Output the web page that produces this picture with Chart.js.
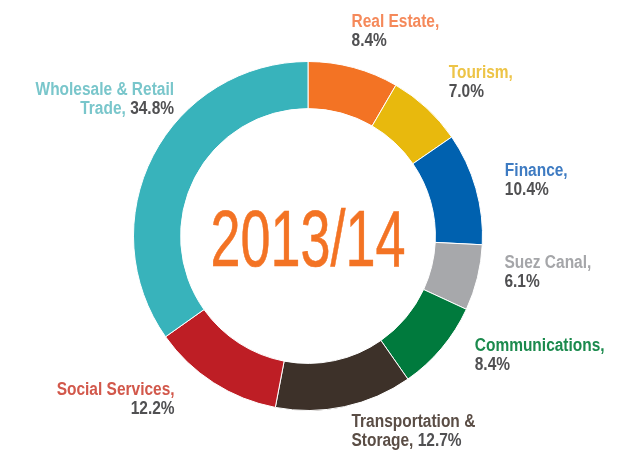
<!DOCTYPE html>
<html>
<head>
<meta charset="utf-8">
<script src="https://cdn.jsdelivr.net/npm/chart.js@4.4.1/dist/chart.umd.min.js"></script>
<style>
  html, body { margin: 0; padding: 0; background: #fff; }
  #wrap { width: 637px; height: 451px; position: relative; }
</style>
</head>
<body>
<div id="wrap"><canvas id="donut"></canvas></div>
<script>
// data
const sectors = ['Real Estate', 'Tourism', 'Finance', 'Suez Canal', 'Communications',
                 'Transportation & Storage', 'Social Services', 'Wholesale & Retail Trade'];
const shares = [8.4, 7.0, 10.4, 6.1, 8.4, 12.7, 12.2, 34.8];
const centerTitle = '2013/14';

const sliceColors = ['#F37324', '#E8B90D', '#0061AF', '#A7A8AB', '#007A3D', '#3D3129', '#BE1E25', '#38B3BB'];
const labelColors = ['#F5895A', '#EDC447', '#3E7BC2', '#A5A6A9', '#1B8A4D', '#5A4D45', '#D2584B', '#79C6CB'];
const pctColor = '#505052';

// where the first word line wraps (label text only)
const wrapAt = { 'Transportation & Storage': 'Transportation &', 'Wholesale & Retail Trade': 'Wholesale & Retail' };
// nudge of each label from the outer middle of its slice: [dx, dy, align]
const nudges = [[-2, -41, 'left'], [22, -30, 'left'], [29, -12, 'left'], [27, -10, 'left'],
                [33, 3, 'left'], [7, 20, 'left'], [-39, 12, 'right'], [21, -61, 'right']];

const FONT = '"Liberation Sans Narrow", "Liberation Sans", sans-serif';
const LINE = 19;
const SQUEEZE = 0.86; // the original uses a condensed face

const labelPlugin = {
    id: 'sliceLabels',
    afterDraw(chart) {
        const ctx = chart.ctx;
        const arcs = chart.getDatasetMeta(0).data;
        ctx.save();
        ctx.font = 'bold 18px ' + FONT;
        ctx.textBaseline = 'alphabetic';
        ctx.textAlign = 'left';
        arcs.forEach((arc, i) => {
            const mid = (arc.startAngle + arc.endAngle) / 2;
            const ax = arc.x + Math.cos(mid) * arc.outerRadius + nudges[i][0];
            const ay = arc.y + Math.sin(mid) * arc.outerRadius + nudges[i][1];
            const align = nudges[i][2];
            const name = sectors[i];
            const pct = shares[i].toFixed(1) + '%';
            let lines;
            if (wrapAt[name]) {
                const first = wrapAt[name];
                const rest = name.slice(first.length).trim() + ', ';
                lines = [[[first, labelColors[i]]], [[rest, labelColors[i]], [pct, pctColor]]];
            } else {
                lines = [[[name + ',', labelColors[i]]], [[pct, pctColor]]];
            }
            lines.forEach((parts, li) => {
                const total = parts.reduce((s, p) => s + ctx.measureText(p[0]).width * SQUEEZE, 0);
                let x = align === 'left' ? ax : ax - total;
                const y = ay + li * LINE;
                parts.forEach(p => {
                    ctx.save();
                    ctx.fillStyle = p[1];
                    ctx.translate(x, y);
                    ctx.scale(SQUEEZE, 1);
                    ctx.fillText(p[0], 0, 0);
                    ctx.restore();
                    x += ctx.measureText(p[0]).width * SQUEEZE;
                });
            });
        });

        // year in the hole
        const a0 = arcs[0];
        ctx.font = '80px ' + FONT;
        ctx.fillStyle = '#F37324';
        ctx.strokeStyle = '#F37324';
        ctx.lineWidth = 0.6;
        ctx.textAlign = 'center';
        const w = ctx.measureText(centerTitle).width;
        ctx.translate(a0.x, a0.y + 30);
        ctx.scale(195 / w, 1);
        ctx.fillText(centerTitle, 0, 0);
        ctx.strokeText(centerTitle, 0, 0);
        ctx.restore();
    }
};

const donutChart = new Chart(document.getElementById('donut').getContext('2d'), {
    type: 'doughnut',
    data: {
        labels: sectors,
        datasets: [{
            data: shares,
            backgroundColor: sliceColors,
            borderColor: '#ffffff',
            borderWidth: 1
        }]
    },
    options: {
        responsive: true,
        maintainAspectRatio: false,
        animation: false,
        cutout: '73%',
        layout: { padding: { top: 61, bottom: 40, left: 100, right: 121 } },
        plugins: {
            legend: { display: false },
            tooltip: { enabled: false }
        }
    },
    plugins: [labelPlugin]
});
</script>
</body>
</html>
